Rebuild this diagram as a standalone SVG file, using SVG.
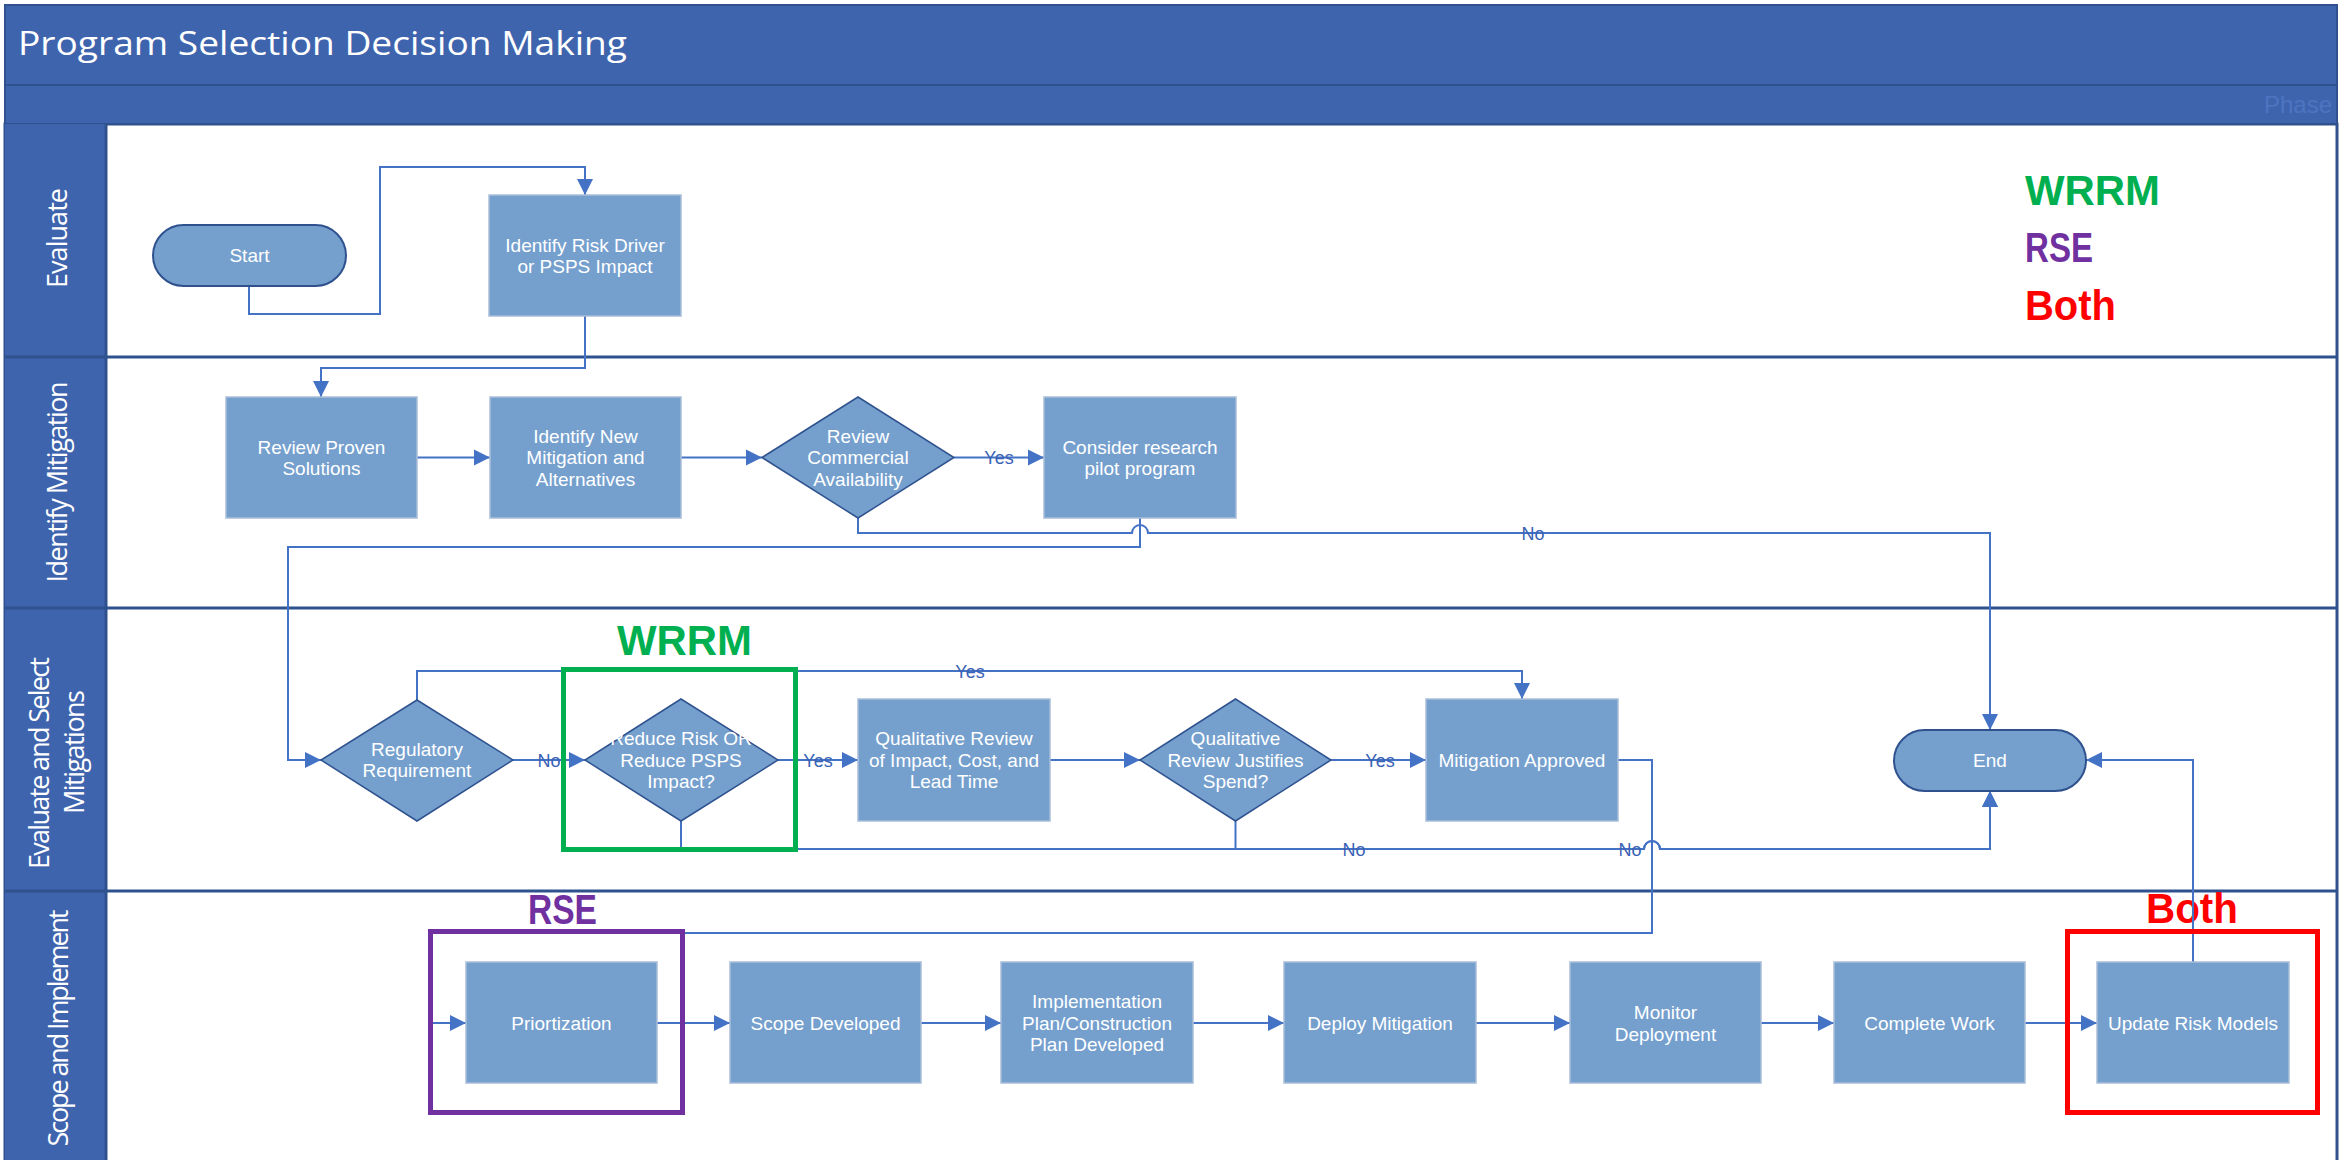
<svg xmlns="http://www.w3.org/2000/svg" width="2351" height="1160" viewBox="0 0 2351 1160">
<defs>
<style>
.hdr{fill:#3F64AE;stroke:#2F528F;stroke-width:2}
.sep{stroke:#2F528F;stroke-width:3;fill:none}
.box{fill:#75A0CE;stroke:#A9BDD9;stroke-width:1.5}
.dia{fill:#75A0CE;stroke:#2F528F;stroke-width:1.5}
.term{fill:#75A0CE;stroke:#2F528F;stroke-width:2}
.nt{font-family:"Liberation Sans",Arial,sans-serif;font-size:19px;fill:#FFFFFF;text-anchor:middle}
.lane{font-family:"Open Sans","Noto Sans",sans-serif;font-size:27px;fill:#FFFFFF;text-anchor:middle}
.con{fill:none;stroke:#4472C4;stroke-width:2}
.lbl{font-family:"Liberation Sans",Arial,sans-serif;font-size:18px;fill:#3A62B5;text-anchor:middle}
.big{font-family:"Liberation Sans",Arial,sans-serif;font-size:42px;font-weight:bold}
.hl{fill:none;stroke-width:5}
</style>
<marker id="arr" markerUnits="userSpaceOnUse" markerWidth="18" markerHeight="18" refX="16" refY="9" orient="auto">
<path d="M0,1 L16,9 L0,17 Z" fill="#4472C4"/>
</marker>
</defs>

<g id="frame">
<rect x="5" y="124" width="2332" height="1040" fill="#FFFFFF" stroke="#2F528F" stroke-width="3"/>
<rect class="hdr" x="5" y="5" width="2332" height="80"/>
<rect class="hdr" x="5" y="85" width="2332" height="39"/>
<text x="18" y="55" font-family="'Open Sans','Noto Sans',sans-serif" font-size="33" fill="#FFFFFF" textLength="609" lengthAdjust="spacingAndGlyphs">Program Selection Decision Making</text>
<text x="2332" y="113" font-family="'Liberation Sans',Arial,sans-serif" font-size="24" fill="#4D74C0" text-anchor="end">Phase</text>
<rect x="5" y="124" width="101" height="1040" fill="#3F64AE"/>
<line class="sep" x1="5" y1="357" x2="2337" y2="357"/>
<line class="sep" x1="5" y1="608" x2="2337" y2="608"/>
<line class="sep" x1="5" y1="891" x2="2337" y2="891"/>
<line class="sep" x1="106" y1="124" x2="106" y2="1160" stroke-width="1.5"/>
<text class="lane" transform="translate(67,238) rotate(-90)" textLength="100">Evaluate</text>
<text class="lane" transform="translate(67,482) rotate(-90)" textLength="201">Identify Mitigation</text>
<text class="lane" transform="translate(49,763) rotate(-90)" textLength="212">Evaluate and Select</text>
<text class="lane" transform="translate(84,752) rotate(-90)" textLength="124">Mitigations</text>
<text class="lane" transform="translate(68,1028) rotate(-90)" textLength="237">Scope and Implement</text>
</g>

<g id="legend">
<text class="big" x="2025" y="205" fill="#00B050" textLength="135" lengthAdjust="spacingAndGlyphs">WRRM</text>
<text class="big" x="2025" y="262" fill="#7030A0" textLength="68" lengthAdjust="spacingAndGlyphs">RSE</text>
<text class="big" x="2025" y="320" fill="#FF0000" textLength="91" lengthAdjust="spacingAndGlyphs">Both</text>
<text class="big" x="617" y="655" fill="#00B050" textLength="135" lengthAdjust="spacingAndGlyphs">WRRM</text>
<text class="big" x="528" y="924" fill="#7030A0" textLength="69" lengthAdjust="spacingAndGlyphs">RSE</text>
<text class="big" x="2146" y="923" fill="#FF0000" textLength="92" lengthAdjust="spacingAndGlyphs">Both</text>
</g>

<g id="connectors">
<path class="con" d="M249,286 V314 H380 V167 H585 V195" marker-end="url(#arr)"/>
<path class="con" d="M585,316 V368 H321 V397" marker-end="url(#arr)"/>
<path class="con" d="M417,457.5 H490" marker-end="url(#arr)"/>
<path class="con" d="M681,457.5 H762" marker-end="url(#arr)"/>
<path class="con" d="M954,457.5 H1044" marker-end="url(#arr)"/>
<path class="con" d="M858,518 V533 H1132 A8,8 0 0 1 1148,533 H1990 V730" marker-end="url(#arr)"/>
<path class="con" d="M1140,518 V547 H288 V760 H321" marker-end="url(#arr)"/>
<path class="con" d="M513,760 H585" marker-end="url(#arr)"/>
<path class="con" d="M417,700 V671 H1522 V699" marker-end="url(#arr)"/>
<path class="con" d="M778,760 H858" marker-end="url(#arr)"/>
<path class="con" d="M681,821 V849 H1644 A8,8 0 0 1 1660,849 H1990 V791" marker-end="url(#arr)"/>
<path class="con" d="M1050,760 H1140" marker-end="url(#arr)"/>
<path class="con" d="M1331,760 H1426" marker-end="url(#arr)"/>
<path class="con" d="M1235.5,821 V849 H1644 A8,8 0 0 1 1660,849 H1990 V791" marker-end="url(#arr)"/>
<path class="con" d="M1618,760 H1652 V933 H432 V1023 H466" marker-end="url(#arr)"/>
<path class="con" d="M657,1023 H730" marker-end="url(#arr)"/>
<path class="con" d="M921,1023 H1001" marker-end="url(#arr)"/>
<path class="con" d="M1193,1023 H1284" marker-end="url(#arr)"/>
<path class="con" d="M1476,1023 H1570" marker-end="url(#arr)"/>
<path class="con" d="M1761,1023 H1834" marker-end="url(#arr)"/>
<path class="con" d="M2025,1023 H2097" marker-end="url(#arr)"/>
<path class="con" d="M2193,962 V760 H2086" marker-end="url(#arr)"/>
<text class="lbl" x="999" y="464">Yes</text>
<text class="lbl" x="1533" y="540">No</text>
<text class="lbl" x="549" y="767">No</text>
<text class="lbl" x="970" y="678">Yes</text>
<text class="lbl" x="818" y="767">Yes</text>
<text class="lbl" x="1380" y="767">Yes</text>
<text class="lbl" x="1354" y="856">No</text>
<text class="lbl" x="1630" y="856">No</text>
</g>

<g id="start">
<rect class="term" x="153" y="225" width="193" height="61" rx="30.5"/>
<text class="nt" x="249.5" y="262">Start</text>
</g>
<g id="identify-risk">
<rect class="box" x="489" y="195" width="192" height="121"/>
<text class="nt" x="585" y="251.5"><tspan x="585">Identify Risk Driver</tspan><tspan x="585" dy="21.5">or PSPS Impact</tspan></text>
</g>
<g id="review-proven">
<rect class="box" x="226" y="397" width="191" height="121"/>
<text class="nt" x="321.5" y="453.5"><tspan x="321.5">Review Proven</tspan><tspan x="321.5" dy="21.5">Solutions</tspan></text>
</g>
<g id="identify-new">
<rect class="box" x="490" y="397" width="191" height="121"/>
<text class="nt" x="585.5" y="442.5"><tspan x="585.5">Identify New</tspan><tspan x="585.5" dy="21.5">Mitigation and</tspan><tspan x="585.5" dy="21.5">Alternatives</tspan></text>
</g>
<g id="review-commercial">
<polygon class="dia" points="858,397 954,457.5 858,518 762,457.5"/>
<text class="nt" x="858" y="442.5"><tspan x="858">Review</tspan><tspan x="858" dy="21.5">Commercial</tspan><tspan x="858" dy="21.5">Availability</tspan></text>
</g>
<g id="consider-research">
<rect class="box" x="1044" y="397" width="192" height="121"/>
<text class="nt" x="1140" y="453.5"><tspan x="1140">Consider research</tspan><tspan x="1140" dy="21.5">pilot program</tspan></text>
</g>
<g id="regulatory">
<polygon class="dia" points="417,700 513,760 417,821 321,760"/>
<text class="nt" x="417" y="755.5"><tspan x="417">Regulatory</tspan><tspan x="417" dy="21.5">Requirement</tspan></text>
</g>
<g id="reduce-risk">
<polygon class="dia" points="681,699 778,760 681,821 585,760"/>
<text class="nt" x="681" y="745"><tspan x="681">Reduce Risk OR</tspan><tspan x="681" dy="21.5">Reduce PSPS</tspan><tspan x="681" dy="21.5">Impact?</tspan></text>
</g>
<g id="qualitative-review">
<rect class="box" x="858" y="699" width="192" height="122"/>
<text class="nt" x="954" y="745"><tspan x="954">Qualitative Review</tspan><tspan x="954" dy="21.5">of Impact, Cost, and</tspan><tspan x="954" dy="21.5">Lead Time</tspan></text>
</g>
<g id="qualitative-justifies">
<polygon class="dia" points="1235.5,699 1331,760 1235.5,821 1140,760"/>
<text class="nt" x="1235.5" y="745"><tspan x="1235.5">Qualitative</tspan><tspan x="1235.5" dy="21.5">Review Justifies</tspan><tspan x="1235.5" dy="21.5">Spend?</tspan></text>
</g>
<g id="mitigation-approved">
<rect class="box" x="1426" y="699" width="192" height="122"/>
<text class="nt" x="1522" y="766.5">Mitigation Approved</text>
</g>
<g id="end">
<rect class="term" x="1894" y="730" width="192" height="61" rx="30.5"/>
<text class="nt" x="1990" y="767">End</text>
</g>
<g id="priortization">
<rect class="box" x="466" y="962" width="191" height="121"/>
<text class="nt" x="561.5" y="1029.5">Priortization</text>
</g>
<g id="scope-developed">
<rect class="box" x="730" y="962" width="191" height="121"/>
<text class="nt" x="825.5" y="1029.5">Scope Developed</text>
</g>
<g id="implementation-plan">
<rect class="box" x="1001" y="962" width="192" height="121"/>
<text class="nt" x="1097" y="1008"><tspan x="1097">Implementation</tspan><tspan x="1097" dy="21.5">Plan/Construction</tspan><tspan x="1097" dy="21.5">Plan Developed</tspan></text>
</g>
<g id="deploy-mitigation">
<rect class="box" x="1284" y="962" width="192" height="121"/>
<text class="nt" x="1380" y="1029.5">Deploy Mitigation</text>
</g>
<g id="monitor-deployment">
<rect class="box" x="1570" y="962" width="191" height="121"/>
<text class="nt" x="1665.5" y="1019"><tspan x="1665.5">Monitor</tspan><tspan x="1665.5" dy="21.5">Deployment</tspan></text>
</g>
<g id="complete-work">
<rect class="box" x="1834" y="962" width="191" height="121"/>
<text class="nt" x="1929.5" y="1029.5">Complete Work</text>
</g>
<g id="update-risk-models">
<rect class="box" x="2097" y="962" width="192" height="121"/>
<text class="nt" x="2193" y="1029.5">Update Risk Models</text>
</g>

<g id="highlights">
<rect class="hl" x="563.5" y="669.5" width="232" height="180" stroke="#00B050"/>
<rect class="hl" x="430.5" y="931.5" width="252" height="181" stroke="#7030A0"/>
<rect class="hl" x="2067.5" y="931.5" width="250" height="181" stroke="#FF0000"/>
</g>
</svg>
